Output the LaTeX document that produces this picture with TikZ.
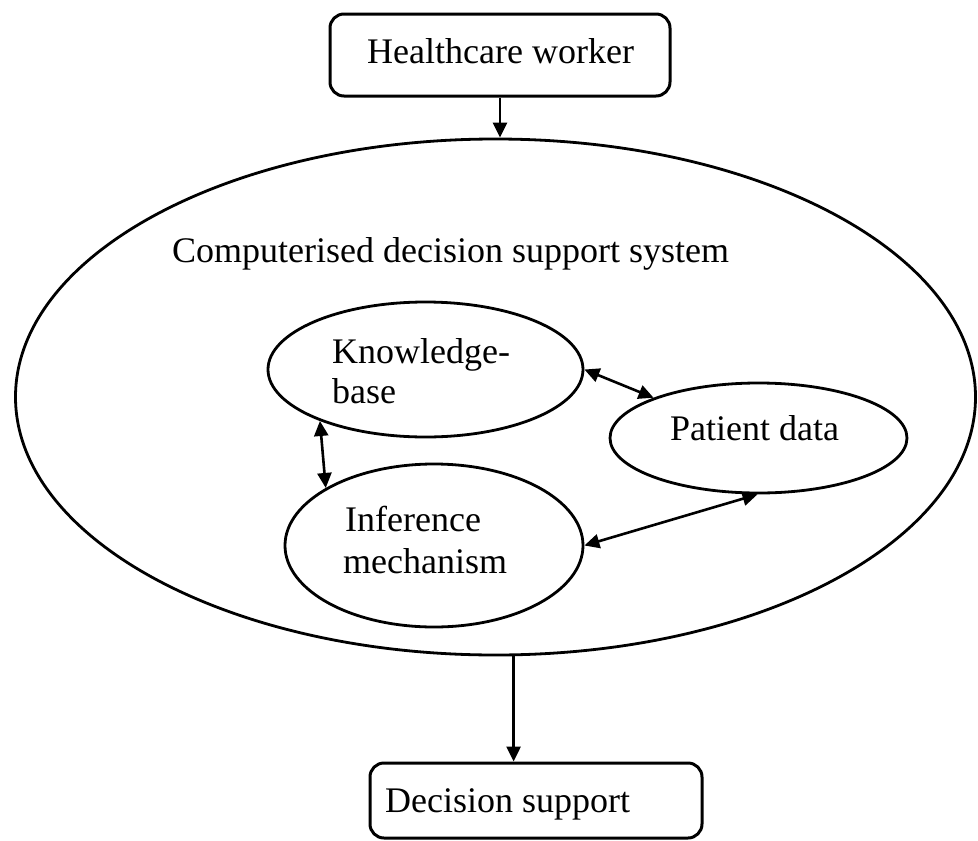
\documentclass[tikz,border=0pt]{standalone}
\usepackage{fontspec}
\setmainfont{Liberation Serif}
\usetikzlibrary{shapes.geometric,arrows.meta}
\begin{document}
\begin{tikzpicture}[x=1pt,y=-1pt,
  box/.style={draw, line width=3pt, rounded corners=14pt, inner sep=0pt, rectangle},
  oval/.style={draw, ellipse, line width=2.8pt, inner sep=0pt},
  lbl/.style={anchor=base west, inner sep=0pt, font=\fontsize{36}{40}\selectfont},
  tip/.tip={Triangle[length=15pt,width=14pt]},
  conn/.style={line width=2.6pt, -tip},
  biconn/.style={line width=2.6pt, tip-tip}]
\useasboundingbox (0,0) rectangle (978,841);
\fill[white] (0,0) rectangle (978,841);

% boxes
\node[box, minimum width=340pt, minimum height=82pt] (hw) at (500,55) {};
\node[box, minimum width=332pt, minimum height=75pt] (ds) at (536,800.5) {};

% ellipses
\node[oval, minimum width=960pt, minimum height=516pt] (cdss) at (495.5,397) {};
\node[oval, minimum width=315pt, minimum height=135pt] (kb) at (425.5,369.5) {};
\node[oval, minimum width=297pt, minimum height=110pt] (pd) at (758.5,438) {};
\node[oval, minimum width=298pt, minimum height=163pt] (im) at (434,545.5) {};

% labels
\node[lbl] (thw) at (367,63) {Healthcare worker};
\node[lbl] (tds) at (385,812) {Decision support};
\node[lbl] (tcdss) at (172,262) {Computerised decision support system};
\node[lbl] (tkb1) at (332,363) {Knowledge-};
\node[lbl] (tkb2) at (332,403) {base};
\node[lbl] (tpd) at (670,440) {Patient data};
\node[lbl] (tim1) at (345,531) {Inference};
\node[lbl] (tim2) at (343,573) {mechanism};

% connectors
\draw[conn] (hw.south) -- (hw.south |- cdss.north);
\draw[conn] (cdss.274) -- (cdss.274 |- ds.north);
\draw[biconn] (kb.0) -- (pd.159);
\draw[biconn] (kb.206) -- (im.152);
\draw[biconn] (im.0) -- (pd.269);
\end{tikzpicture}
\end{document}
